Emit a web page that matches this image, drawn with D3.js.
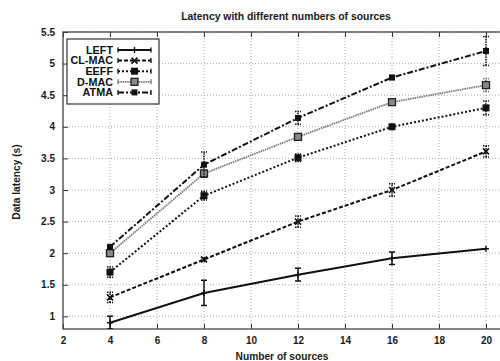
<!DOCTYPE html>
<html>
<head>
<meta charset="utf-8">
<script src="https://cdn.jsdelivr.net/npm/d3@7"></script>
<style>
  html, body { margin: 0; padding: 0; background: #fff; }
  svg { display: block; font-family: "Liberation Sans", Arial, Helvetica, sans-serif; font-weight: bold; }
</style>
</head>
<body>
<svg id="chart" width="500" height="361"></svg>
<script>
// Number of sources on the x axis
const sources = [4, 8, 12, 16, 20];

// Mean data latency (s) per protocol
const leftVals  = [0.90, 1.37, 1.66, 1.92, 2.07];
const clmacVals = [1.30, 1.90, 2.50, 3.00, 3.61];
const eeffVals  = [1.70, 2.91, 3.51, 4.00, 4.30];
const dmacVals  = [2.00, 3.26, 3.84, 4.39, 4.66];
const atmaVals  = [2.10, 3.40, 4.14, 4.78, 5.20];

// Half-width of the error bars (s)
const leftErr  = [0.10, 0.20, 0.10, 0.10, 0.00];
const clmacErr = [0.08, 0.03, 0.09, 0.10, 0.09];
const eeffErr  = [0.08, 0.07, 0.06, 0.03, 0.11];
const dmacErr  = [0.05, 0.06, 0.05, 0.03, 0.10];
const atmaErr  = [0.03, 0.20, 0.10, 0.03, 0.23];

const seriesNames = ["LEFT", "CL-MAC", "EEFF", "D-MAC", "ATMA"];

const xTicks = [2, 4, 6, 8, 10, 12, 14, 16, 18, 20];
const yTicks = [1, 1.5, 2, 2.5, 3, 3.5, 4, 4.5, 5, 5.5];

const titleText = "Latency with different numbers of sources";
const xLabel = "Number of sources";
const yLabel = "Data latency (s)";

// Drawing style per series (gnuplot-like monochrome)
const styles = {
  "LEFT":   { stroke: "#111", width: 2,   dash: null,        marker: "plus" },
  "CL-MAC": { stroke: "#111", width: 2,   dash: "4,2",       marker: "cross" },
  "EEFF":   { stroke: "#111", width: 2,   dash: "2,2",       marker: "square" },
  "D-MAC":  { stroke: "#777", width: 1.8, dash: "1.5,0.8",   marker: "openSquare" },
  "ATMA":   { stroke: "#111", width: 2,   dash: "6,2,2,2",   marker: "smallSquare" }
};

const series = seriesNames.map((name, i) => ({
  name,
  values: [leftVals, clmacVals, eeffVals, dmacVals, atmaVals][i],
  err: [leftErr, clmacErr, eeffErr, dmacErr, atmaErr][i]
}));

const svg = d3.select("#chart");
const plot = { left: 63, top: 32, bottom: 329 };

const x = d3.scaleLinear().domain([2, 21]).range([plot.left, plot.left + 19 * 23.5]);
const y = d3.scaleLinear().domain([0.8, 5.5]).range([plot.bottom, plot.top]);
const right = x(21);

// Clip region for the plotting area
svg.append("defs").append("clipPath").attr("id", "plotClip")
  .append("rect").attr("x", plot.left).attr("y", plot.top)
  .attr("width", right - plot.left).attr("height", plot.bottom - plot.top);

// Dotted grid
const grid = svg.append("g");
grid.selectAll("line.gx").data(xTicks.filter(t => t > 2)).join("line")
  .attr("x1", d => x(d)).attr("x2", d => x(d))
  .attr("y1", plot.top).attr("y2", plot.bottom)
  .attr("stroke", "#aaa").attr("stroke-width", 1).attr("stroke-dasharray", "1,2");
grid.selectAll("line.gy").data(yTicks).join("line")
  .attr("x1", plot.left).attr("x2", right)
  .attr("y1", d => y(d)).attr("y2", d => y(d))
  .attr("stroke", "#aaa").attr("stroke-width", 1).attr("stroke-dasharray", "1,2");

// Axes with inward ticks
const xAxis = d3.axisBottom(x).tickValues(xTicks).tickSize(-5).tickPadding(8).tickFormat(d3.format("d"));
const xAxisTop = d3.axisTop(x).tickValues(xTicks).tickSize(-5).tickFormat("");
const yAxis = d3.axisLeft(y).tickValues(yTicks).tickSize(-5).tickPadding(8).tickFormat(d => d);

function styleAxis(g) {
  g.select(".domain").remove();
  g.selectAll(".tick line").attr("stroke", "#333").attr("stroke-width", 1);
  g.selectAll(".tick text").attr("fill", "#1a1a1a").style("font-size", "10px").style("font-weight", "bold")
    .style("font-family", "'Liberation Sans', Arial, sans-serif");
}
svg.append("g").attr("transform", `translate(0,${plot.bottom})`).call(xAxis).call(styleAxis);
svg.append("g").attr("transform", `translate(0,${plot.top})`).call(xAxisTop).call(styleAxis);
svg.append("g").attr("transform", `translate(${plot.left},0)`).call(yAxis).call(styleAxis);

// Plot frame
svg.append("rect").attr("x", plot.left).attr("y", plot.top)
  .attr("width", right - plot.left).attr("height", plot.bottom - plot.top)
  .attr("fill", "none").attr("stroke", "#444").attr("stroke-width", 1.3);

// Marker drawing helper
function drawMarker(g, kind, cx, cy) {
  if (kind === "plus") {
    g.append("path").attr("d", `M${cx - 3},${cy}H${cx + 3}M${cx},${cy - 3}V${cy + 3}`)
      .attr("stroke", "#111").attr("stroke-width", 1.4);
  } else if (kind === "cross") {
    g.append("path").attr("d", `M${cx - 3},${cy - 3}L${cx + 3},${cy + 3}M${cx - 3},${cy + 3}L${cx + 3},${cy - 3}`)
      .attr("stroke", "#111").attr("stroke-width", 1.6);
  } else if (kind === "square") {
    g.append("rect").attr("x", cx - 3.5).attr("y", cy - 3.5).attr("width", 7).attr("height", 7)
      .attr("fill", "#111");
  } else if (kind === "openSquare") {
    g.append("rect").attr("x", cx - 3.5).attr("y", cy - 3.5).attr("width", 7).attr("height", 7)
      .attr("fill", "#888").attr("stroke", "#222").attr("stroke-width", 1.3);
  } else if (kind === "smallSquare") {
    g.append("rect").attr("x", cx - 3).attr("y", cy - 3).attr("width", 6).attr("height", 6)
      .attr("fill", "#111");
  }
}

const data = svg.append("g").attr("clip-path", "url(#plotClip)");
const line = d3.line().x(d => x(d.x)).y(d => y(d.y));

series.forEach(s => {
  const st = styles[s.name];
  const pts = sources.map((v, i) => ({ x: v, y: s.values[i], e: s.err[i] }));
  const g = data.append("g");
  g.append("path").datum(pts).attr("d", line)
    .attr("fill", "none").attr("stroke", st.stroke).attr("stroke-width", st.width)
    .attr("stroke-dasharray", st.dash);
  // error bars
  pts.filter(p => p.e > 0).forEach(p => {
    const cx = x(p.x), y1 = y(p.y - p.e), y2 = y(p.y + p.e);
    g.append("path").attr("d", `M${cx},${y1}V${y2}M${cx - 3},${y1}H${cx + 3}M${cx - 3},${y2}H${cx + 3}`)
      .attr("fill", "none").attr("stroke", st.stroke).attr("stroke-width", 1.5)
      .attr("stroke-dasharray", s.name === "LEFT" ? null : "1.5,1");
  });
  pts.forEach(p => drawMarker(g, st.marker, x(p.x), y(p.y)));
});

// Legend
const legend = svg.append("g");
legend.append("rect").attr("x", 67).attr("y", 39).attr("width", 92).attr("height", 65)
  .attr("fill", "#fff").attr("stroke", "#333").attr("stroke-width", 1.2);
series.forEach((s, i) => {
  const st = styles[s.name];
  const ly = 50 + i * 10.6;
  legend.append("text").attr("x", 113).attr("y", ly).attr("dy", "0.35em")
    .attr("text-anchor", "end").attr("fill", "#111")
    .style("font-size", "10.8px").style("font-weight", "bold").text(s.name);
  legend.append("line").attr("x1", 118).attr("x2", 151).attr("y1", ly).attr("y2", ly)
    .attr("stroke", st.stroke).attr("stroke-width", st.width).attr("stroke-dasharray", st.dash);
  legend.append("path").attr("d", `M118,${ly - 2.5}V${ly + 2.5}M151,${ly - 2.5}V${ly + 2.5}`)
    .attr("stroke", st.stroke).attr("stroke-width", 1.3);
  drawMarker(legend, st.marker, 134.5, ly);
});

// Title and axis labels
svg.append("text").attr("x", 286).attr("y", 19.5).attr("text-anchor", "middle")
  .attr("fill", "#1a1a1a").style("font-size", "10.4px").style("font-weight", "bold").text(titleText);
svg.append("text").attr("x", 282).attr("y", 360).attr("text-anchor", "middle")
  .attr("fill", "#1a1a1a").style("font-size", "10.2px").style("font-weight", "bold").text(xLabel);
svg.append("text").attr("transform", "translate(20,182) rotate(-90)").attr("text-anchor", "middle")
  .attr("fill", "#1a1a1a").style("font-size", "10.2px").style("font-weight", "bold").text(yLabel);
</script>
</body>
</html>
